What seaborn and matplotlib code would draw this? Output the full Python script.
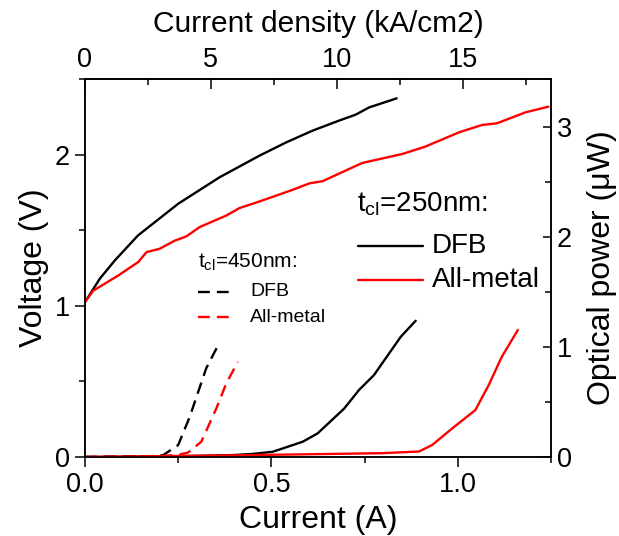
import matplotlib
matplotlib.use("Agg")
import matplotlib.pyplot as plt
import seaborn as sns
from matplotlib.lines import Line2D
from matplotlib.ticker import MultipleLocator, FormatStrFormatter

# voltage vs current, t_cl = 250 nm
i_v_dfb = [0, 0.04, 0.08, 0.142, 0.25, 0.361, 0.468, 0.539, 0.61, 0.686, 0.726, 0.762, 0.836]
v_dfb = [1.025, 1.18, 1.30, 1.465, 1.675, 1.85, 1.993, 2.08, 2.158, 2.229, 2.264, 2.312, 2.372]
i_v_metal = [0, 0.022, 0.089, 0.143, 0.165, 0.2, 0.24, 0.272, 0.307, 0.379, 0.414, 0.468,
             0.557, 0.602, 0.637, 0.744, 0.851, 0.913, 1.003, 1.065, 1.105, 1.181, 1.243]
v_metal = [1.025, 1.10, 1.20, 1.29, 1.355, 1.377, 1.43, 1.459, 1.52, 1.597, 1.646, 1.69,
           1.767, 1.81, 1.824, 1.945, 2.004, 2.053, 2.147, 2.196, 2.207, 2.279, 2.317]

# optical power vs current, t_cl = 250 nm
i_p_dfb = [0, 0.1, 0.2, 0.3, 0.4, 0.45, 0.504, 0.584, 0.624, 0.695, 0.735, 0.775, 0.847, 0.887]
p_dfb = [0, 0.002, 0.005, 0.01, 0.018, 0.028, 0.048, 0.139, 0.215, 0.44, 0.61, 0.745, 1.094, 1.24]
i_p_metal = [0, 0.2, 0.4, 0.6, 0.8, 0.896, 0.931, 0.985, 1.047, 1.083, 1.118, 1.161]
p_metal = [0, 0.008, 0.015, 0.025, 0.035, 0.05, 0.109, 0.26, 0.427, 0.655, 0.912, 1.155]

# optical power vs current, t_cl = 450 nm
i_p_dfb_450 = [0, 0.1, 0.18, 0.21, 0.25, 0.281, 0.325, 0.359]
p_dfb_450 = [0, 0.003, 0.008, 0.018, 0.109, 0.366, 0.806, 1.03]
i_p_metal_450 = [0, 0.1, 0.2, 0.25, 0.276, 0.312, 0.352, 0.379, 0.41]
p_metal_450 = [0, 0.003, 0.008, 0.02, 0.04, 0.139, 0.44, 0.67, 0.866]

# current (A) -> current density (kA/cm2)
density_per_amp = 14.8

sns.set_style("ticks")
plt.rcParams['font.family'] = ['Liberation Sans', 'DejaVu Sans']
plt.rcParams['mathtext.fontset'] = 'custom'
plt.rcParams['mathtext.rm'] = 'Liberation Sans'
plt.rcParams['mathtext.it'] = 'Liberation Sans'
for key in ('text.color', 'axes.labelcolor', 'xtick.color', 'ytick.color', 'axes.edgecolor'):
    plt.rcParams[key] = 'black'
plt.rcParams['axes.linewidth'] = 1.1

W, H = 619, 536
fig = plt.figure(figsize=(W / 100, H / 100), dpi=100)
ax = fig.add_axes([85 / W, 1 - 457 / H, (551 - 85) / W, (457 - 79) / H])
ax2 = ax.twinx()

lw = 1.7
sns.lineplot(x=i_v_dfb, y=v_dfb, ax=ax, color="black", lw=lw, sort=False)
sns.lineplot(x=i_v_metal, y=v_metal, ax=ax, color="red", lw=lw, sort=False)
sns.lineplot(x=i_p_dfb, y=p_dfb, ax=ax2, color="black", lw=lw, sort=False)
sns.lineplot(x=i_p_metal, y=p_metal, ax=ax2, color="red", lw=lw, sort=False)
sns.lineplot(x=i_p_dfb_450, y=p_dfb_450, ax=ax2, color="black", lw=lw, sort=False)
ax2.lines[-1].set_dashes((5, 3))
sns.lineplot(x=i_p_metal_450, y=p_metal_450, ax=ax2, color="red", lw=lw, sort=False)
ax2.lines[-1].set_dashes((5, 3))

ax.set_xlim(0, 1.25)
ax.set_ylim(0, 2.5)
ax2.set_ylim(0, 3.44)

ax.xaxis.set_major_locator(MultipleLocator(0.5))
ax.xaxis.set_minor_locator(MultipleLocator(0.25))
ax.xaxis.set_major_formatter(FormatStrFormatter('%.1f'))
ax.yaxis.set_major_locator(MultipleLocator(1))
ax.yaxis.set_minor_locator(MultipleLocator(0.5))
ax2.yaxis.set_major_locator(MultipleLocator(1))
ax2.yaxis.set_minor_locator(MultipleLocator(0.5))

tick_fs = 19.5
label_fs = 23
ax.tick_params(axis="both", which="major", direction="out", length=7, width=1.1,
               labelsize=tick_fs, pad=4)
ax.tick_params(axis="both", which="minor", direction="out", length=4, width=1.1)
ax2.tick_params(axis="y", which="major", direction="in", length=6, width=1.1,
                labelsize=tick_fs, pad=4)
ax2.tick_params(axis="y", which="minor", direction="in", length=4, width=1.1)

top = ax.secondary_xaxis("top", functions=(lambda x: x * density_per_amp,
                                            lambda x: x / density_per_amp))
top.xaxis.set_major_locator(MultipleLocator(5))
top.xaxis.set_minor_locator(MultipleLocator(2.5))
top.tick_params(axis="x", which="major", direction="in", length=7, width=1.1,
                labelsize=tick_fs, pad=4)
top.tick_params(axis="x", which="minor", direction="in", length=4, width=1.1)
top.set_xlabel("Current density (kA/cm2)", fontsize=21.5, labelpad=11)

ax.set_xlabel("Current (A)", fontsize=label_fs, labelpad=5)
ax.set_ylabel("Voltage (V)", fontsize=label_fs, labelpad=4)
ax2.set_ylabel("Optical power (\u03bcW)", fontsize=label_fs, labelpad=11)

for a in (ax, ax2):
    for s in a.spines.values():
        s.set_visible(True)
        s.set_linewidth(1.1)


# legend blocks drawn in figure pixels
def fx(px):
    return px / W


def fy(py):
    return 1 - py / H


fig.text(fx(357), fy(212), r"t$_{\rm cl}$=250nm:", fontsize=20, va="baseline")
fig.add_artist(Line2D([fx(358), fx(423)], [fy(246), fy(246)], color="black", lw=lw))
fig.add_artist(Line2D([fx(358), fx(423)], [fy(280), fy(280)], color="red", lw=lw))
fig.text(fx(432), fy(246), "DFB", fontsize=20, va="center")
fig.text(fx(432), fy(280), "All-metal", fontsize=20, va="center")

fig.text(fx(198), fy(268), r"t$_{\rm cl}$=450nm:", fontsize=15, va="baseline")
fig.add_artist(Line2D([fx(198), fx(233)], [fy(292), fy(292)], color="black", lw=lw,
                      dashes=(5, 3)))
fig.add_artist(Line2D([fx(198), fx(233)], [fy(317), fy(317)], color="red", lw=lw,
                      dashes=(5, 3)))
fig.text(fx(250), fy(292), "DFB", fontsize=14, va="center")
fig.text(fx(250), fy(317), "All-metal", fontsize=14, va="center")

fig.savefig("out.png", dpi=100)
